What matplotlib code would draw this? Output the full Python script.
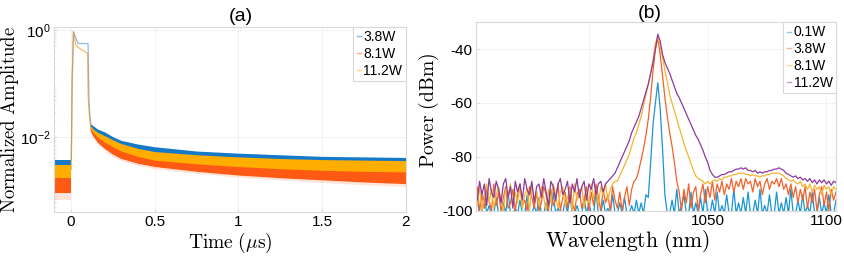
import numpy as np
import matplotlib
matplotlib.use("Agg")
import matplotlib.pyplot as plt

plt.rcParams['font.family'] = ['Liberation Sans', 'DejaVu Sans']
plt.rcParams['mathtext.fontset'] = 'cm'
plt.rcParams['axes.unicode_minus'] = False

# ---------------- panel (a): decay traces (log10 of normalized amplitude) ----------------
labels_a = ['3.8W', '8.1W', '11.2W']

# noise floor before the pulse
pre_t = [-0.1, 0.003]
pre_hi = {'3.8W': [-2.42, -2.42], '8.1W': [-2.70, -2.70], '11.2W': [-2.52, -2.52]}
pre_lo = {'3.8W': [-2.60, -2.60], '8.1W': [-3.05, -3.05], '11.2W': [-2.76, -2.76]}
pre_spike = [-3.18, -3.18]

# pulse itself
pulse_t_blue = [0.003, 0.008, 0.016, 0.03, 0.044, 0.07, 0.103, 0.109, 0.115, 0.119]
pulse_blue = [-2.42, -1.0, -0.03, -0.15, -0.25, -0.25, -0.25, -1.37, -1.62, -1.74]
pulse_t_other = [0.003, 0.008, 0.016, 0.03, 0.06, 0.08, 0.1, 0.104, 0.113, 0.119]
pulse_other = [-2.60, -1.0, -0.03, -0.28, -0.36, -0.39, -0.44, -1.25, -1.68, -1.80]

# decay tail envelopes
tail_t = [0.115, 0.13, 0.16, 0.2, 0.25, 0.3, 0.4, 0.5, 0.75, 1.0, 1.25, 1.5, 1.75, 2.0]
tail_hi = {
    '3.8W': [-1.74, -1.78, -1.85, -1.90, -1.99, -2.06, -2.13, -2.18, -2.26, -2.30, -2.33, -2.36, -2.37, -2.38],
    '8.1W': [-1.80, -1.87, -1.96, -2.04, -2.13, -2.20, -2.30, -2.36, -2.44, -2.49, -2.53, -2.56, -2.58, -2.59],
    '11.2W': [-1.78, -1.84, -1.91, -1.97, -2.05, -2.12, -2.21, -2.27, -2.33, -2.37, -2.40, -2.42, -2.43, -2.44],
}
tail_lo = {
    '3.8W': [-1.80, -1.88, -1.97, -2.04, -2.13, -2.20, -2.28, -2.33, -2.40, -2.44, -2.47, -2.50, -2.51, -2.52],
    '8.1W': [-1.87, -1.97, -2.10, -2.21, -2.32, -2.40, -2.49, -2.55, -2.64, -2.71, -2.76, -2.80, -2.84, -2.87],
    '11.2W': [-1.83, -1.90, -2.00, -2.09, -2.18, -2.26, -2.36, -2.43, -2.50, -2.55, -2.59, -2.62, -2.64, -2.65],
}
tail_spike = [-1.89, -2.00, -2.14, -2.25, -2.36, -2.44, -2.53, -2.59, -2.68, -2.75, -2.80, -2.85, -2.89, -2.92]

colors_a = {'3.8W': '#1479c9', '8.1W': '#ff5a14', '11.2W': '#ffae00'}

# ---------------- panel (b): optical spectra (dBm) ----------------
wl = np.arange(952, 1105)
labels_b = ['0.1W', '3.8W', '8.1W', '11.2W']

p_01 = [-101, -96, -101, -101, -94, -101, -98, -101, -101, -95,
        -101, -101, -97, -101, -93, -101, -101, -99, -101, -96,
        -101, -101, -94, -101, -101, -98, -101, -95, -101, -101,
        -97, -101, -101, -93, -101, -99, -101, -101, -96, -101,
        -94, -101, -101, -98, -101, -101, -95, -101, -97, -101,
        -101, -93, -101, -101, -96, -101, -99, -101, -94, -101,
        -101, -97, -101, -95, -101, -101, -98, -101, -96, -101,
        -97, -101, -94,
        -95, -82, -68, -60, -52.5, -62, -77, -94, -101,
        -101, -96, -101, -92, -101, -98, -94, -101, -101, -93,
        -101, -97, -101, -95, -101, -92, -101, -101, -96, -101,
        -93, -101, -98, -101, -94, -101, -101, -92, -101, -97,
        -101, -95, -101, -93, -101, -101, -96, -101, -92, -101,
        -98, -101, -94, -101, -101, -93, -101, -97, -101, -95,
        -101, -92, -101, -101, -96, -101, -94, -101, -98, -101,
        -93, -101, -101, -95, -101, -97, -101, -94, -101, -101,
        -96]

p_38 = [-97, -91, -100, -94, -99, -92, -96, -100, -90, -98,
        -93, -100, -95, -91, -99, -97, -92, -100, -94, -90,
        -98, -96, -100, -91, -95, -99, -93, -100, -97, -91,
        -94, -100, -92, -98, -96, -90, -100, -95, -93, -99,
        -91, -97, -100, -94, -92, -99, -96, -91, -100, -93,
        -98, -90, -95, -100, -92, -97, -94, -100, -91, -96,
        -99, -93, -100, -95, -91, -98, -92,
        -89, -88, -85, -81, -77, -72, -66, -58, -48, -40,
        -36, -42, -50, -58, -65, -71, -76, -82, -89, -93,
        -100, -92, -97, -90, -99, -93, -91, -100, -94, -90,
        -97, -91, -95, -89, -96, -90, -93, -89, -94, -90,
        -92, -88, -93, -89, -91, -88, -92, -88, -90, -89,
        -93, -88, -91, -89, -94, -90, -88, -92, -89, -90,
        -88, -91, -88, -92, -90, -94, -90, -95, -91, -97,
        -92, -96, -91, -99, -93, -97, -92, -100, -94, -91,
        -98, -93, -100, -92, -96, -93]

p_81 = [-93, -98, -91, -100, -95, -90, -97, -92, -99, -94,
        -91, -96, -100, -92, -95, -90, -98, -93, -97, -91,
        -99, -94, -92, -100, -90, -96, -93, -98, -91, -95,
        -100, -92, -97, -90, -94, -99, -93, -91, -98, -95,
        -92, -100, -90, -96, -94, -91, -99, -93, -97, -90,
        -95, -92, -98, -91, -94, -90, -96, -92, -90, -89,
        -89, -87, -85, -83, -81, -79, -76, -73, -71, -68,
        -65, -61, -57, -53, -49, -44, -38, -35.5, -39, -43,
        -48, -52, -57, -60, -63, -66, -69, -72, -75, -77.5,
        -80, -82.5, -85, -87, -88, -88.5, -89, -90, -89, -90,
        -89, -88.5, -89, -88, -88.5, -87.5, -87.5, -87, -87, -86.5,
        -86.5, -86, -86, -86, -86.5, -86.5, -87, -86.5, -87, -87,
        -87.5, -87, -87, -86.5, -86.5, -86, -86, -86, -86, -86.5,
        -87, -88, -88.5, -89, -88.5, -89.5, -90, -89, -91, -90,
        -92, -90, -93, -90.5, -92, -91, -94, -90.5, -92, -91,
        -94, -91, -92]

p_112 = [-91, -96, -89, -94, -90, -98, -88, -93, -95, -89,
         -92, -97, -90, -88, -95, -91, -99, -89, -93, -90,
         -96, -88, -92, -94, -89, -97, -91, -90, -95, -88,
         -93, -98, -89, -91, -96, -90, -88, -94, -92, -89,
         -97, -90, -93, -88, -95, -91, -89, -96, -90, -92,
         -88, -94, -90, -89, -93, -90,
         -89, -88, -87, -86, -84, -82, -80, -78, -76, -74,
         -71, -69, -67, -65, -62, -59, -56, -53, -49, -45,
         -40, -34.5, -37, -42, -45, -47, -49, -51.5, -54, -56.5,
         -58, -60, -62, -64, -66, -68, -70, -72, -73.5, -75.5,
         -77.5, -80, -82, -85, -86.5, -87.5, -87.5, -87, -86.5, -86.5,
         -86, -85.5, -85.5, -85, -84.5, -84.5, -84, -84.5, -84, -85,
         -85, -85.5, -85, -86, -85.5, -86, -85.5, -85.5, -85, -85,
         -84.5, -84.5, -84, -84.5, -85, -86, -86.5, -87, -87.5, -87,
         -88, -87.5, -88.5, -88, -89, -88, -89.5, -88.5, -90, -88.5,
         -89.5, -88.5, -90, -89, -90.5, -89, -89.5]

spectra = {'0.1W': p_01, '3.8W': p_38, '8.1W': p_81, '11.2W': p_112}
colors_b = {'0.1W': '#1a95d4', '3.8W': '#f2622c', '8.1W': '#f6b32e', '11.2W': '#8d3a9c'}

# ---------------- figure ----------------
fig = plt.figure(figsize=(8.44, 2.56), dpi=100)
ax1 = fig.add_axes([0.064, 0.172, 0.417, 0.723])
ax2 = fig.add_axes([0.564, 0.176, 0.4265, 0.738])

spine_col = '#d9d9d9'
grid_col = '#f0f0f0'

# panel (a)
for lab in labels_a:
    c = colors_a[lab]
    ax1.fill_between(pre_t, 10 ** np.array(pre_lo[lab]), 10 ** np.array(pre_hi[lab]),
                     color=c, lw=0, zorder=2)
    ax1.fill_between(tail_t, 10 ** np.array(tail_lo[lab]), 10 ** np.array(tail_hi[lab]),
                     color=c, lw=0, zorder=2)
# sparse pale spikes under the 8.1W trace
ax1.fill_between(pre_t, 10 ** np.array(pre_spike), 10 ** np.array(pre_lo['8.1W']),
                 color=colors_a['8.1W'], alpha=0.16, lw=0, zorder=1)
ax1.fill_between(tail_t, 10 ** np.array(tail_spike), 10 ** np.array(tail_lo['8.1W']),
                 color=colors_a['8.1W'], alpha=0.16, lw=0, zorder=1)
ax1.plot(pulse_t_blue, 10 ** np.array(pulse_blue), color=colors_a['3.8W'], alpha=0.5, lw=0.9, zorder=3)
ax1.plot(pulse_t_other, 10 ** np.array(pulse_other), color=colors_a['8.1W'], alpha=0.35, lw=0.9, zorder=3)
ax1.plot(pulse_t_other, 10 ** np.array(pulse_other), color=colors_a['11.2W'], alpha=0.35, lw=0.9, zorder=3)

handles_a = [plt.Line2D([], [], color=colors_a[lab], alpha=0.5, lw=1) for lab in labels_a]

ax1.set_yscale('log')
ax1.set_xlim(-0.1, 2)
ax1.set_ylim(10 ** -3.4, 10 ** 0.062)
ax1.set_xticks([0, 0.5, 1, 1.5, 2])
ax1.set_xticklabels(['0', '0.5', '1', '1.5', '2'])
ax1.set_yticks([1e-2, 1])
ax1.set_title('(a)', fontsize=14, pad=4, x=0.53)
ax1.set_xlabel(r'$\mathrm{Time\ (}\mu\mathrm{s)}$', fontsize=14)
ax1.xaxis.set_label_coords(0.5, -0.1)
ax1.set_ylabel(r'$\mathrm{Normalized\ Amplitude}$', fontsize=13.5)
ax1.yaxis.set_label_coords(-0.094, 0.5)
leg1 = ax1.legend(handles_a, labels_a, loc='upper right', fontsize=10, handlelength=0.35,
                  handletextpad=0.15, labelspacing=0.2, borderpad=0.25, borderaxespad=0,
                  fancybox=False, framealpha=1, edgecolor=spine_col)
leg1.get_frame().set_linewidth(0.8)

# panel (b)
for lab in labels_b:
    ax2.plot(wl, spectra[lab], color=colors_b[lab], lw=0.9)
handles_b = [plt.Line2D([], [], color=colors_b[lab], alpha=0.5, lw=1) for lab in labels_b]

ax2.set_xlim(952.5, 1104)
ax2.set_ylim(-100, -30)
ax2.set_xticks([1000, 1050, 1100])
ax2.set_yticks([-100, -80, -60, -40])
ax2.set_title('(b)', fontsize=14, pad=3, x=0.483)
ax2.set_xlabel(r'$\mathrm{Wavelength\ (nm)}$', fontsize=15.5)
ax2.xaxis.set_label_coords(0.42, -0.09)
ax2.set_ylabel(r'$\mathrm{Power\ (dBm)}$', fontsize=14)
ax2.yaxis.set_label_coords(-0.098, 0.53)
leg2 = ax2.legend(handles_b, labels_b, loc='upper right', fontsize=10, handlelength=0.35,
                  handletextpad=0.15, labelspacing=0.2, borderpad=0.25, borderaxespad=0,
                  fancybox=False, framealpha=1, edgecolor=spine_col)
leg2.get_frame().set_linewidth(0.8)

for ax in (ax1, ax2):
    for s in ax.spines.values():
        s.set_color(spine_col)
        s.set_linewidth(0.8)
    ax.grid(True, color=grid_col, lw=0.6, zorder=0)
    ax.set_axisbelow(True)
    ax.tick_params(direction='in', length=2, color=spine_col, labelsize=11, pad=2.5)
    ax.tick_params(which='minor', direction='in', length=1.5, color=spine_col)

fig.savefig('out.png', dpi=100)
